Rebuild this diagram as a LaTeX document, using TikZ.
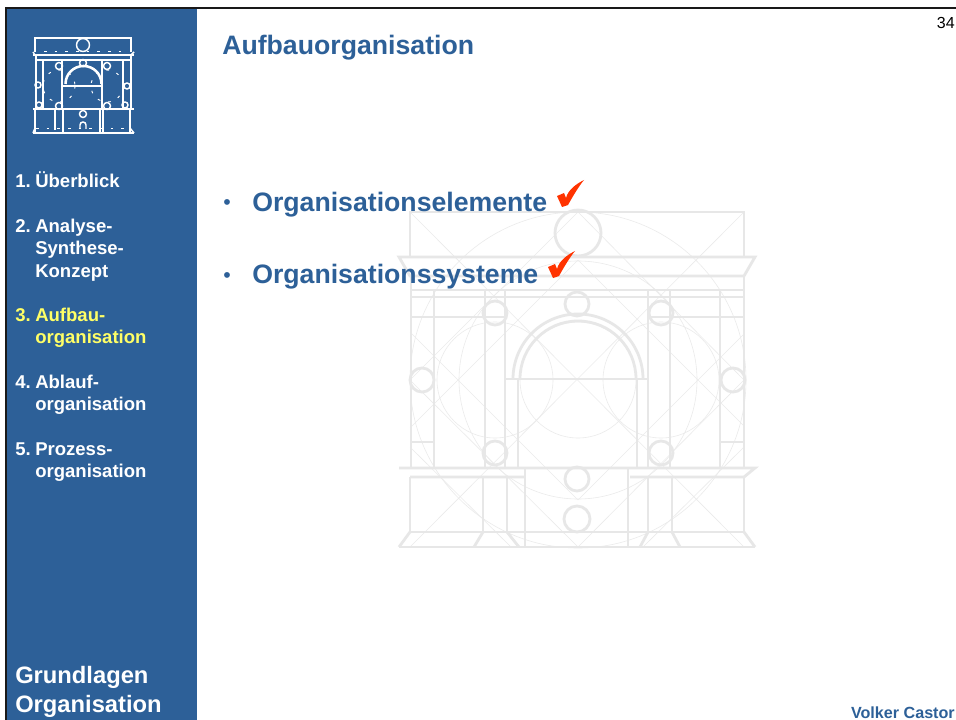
\documentclass[tikz,border=0pt]{standalone}
\usepackage{fontspec}
\setmainfont{Liberation Sans}
\definecolor{sidebar}{HTML}{2D6098}
\definecolor{navyel}{HTML}{FFFF66}
\definecolor{wm}{HTML}{E7E7E7}
\definecolor{wmthin}{HTML}{EBEBEB}
\definecolor{checkred}{HTML}{FF3300}
\newcommand{\navnum}[1]{\makebox[15pt][l]{#1}}
\tikzset{
  px/.style={x=0.75pt,y=-0.75pt},
  navtext/.style={anchor=base west,inner sep=0,text=white,font=\fontsize{13.9}{16}\bfseries\selectfont,align=left},
  bodytext/.style={anchor=base west,inner sep=0,text=sidebar,font=\fontsize{20}{22}\bfseries\selectfont},
  bullettext/.style={anchor=base,inner sep=0,text=sidebar,font=\fontsize{16}{18}\selectfont},
  wmthick/.style={draw=wm,line width=2.1pt},
  wmfine/.style={draw=wmthin,line width=0.45pt},
  logoline/.style={draw=white,line width=1.1pt},
  logofat/.style={draw=white,line width=1.9pt},
  logodots/.style={draw=white,line width=0.7pt,dash pattern=on 2pt off 6pt},
}
\begin{document}
\begin{tikzpicture}[px]
\useasboundingbox (0,0) rectangle (956,720);
\fill[white] (0,0) rectangle (956,720);
\fill[sidebar] (7,9) rectangle (197,720);
\fill[black!90] (5,7) rectangle (956,9);
\fill[black!90] (5,7) rectangle (7,720);
% watermark: fine construction lines
\begin{scope}[wmfine]
  \draw (578,380) circle (168) (578,380) circle (119) (578,380) circle (58) (495,380) circle (58) (661,380) circle (58);
  \draw (410,212)--(744,547) (744,212)--(410,547);
  \draw (578,212)--(744,380)--(578,547)--(410,380)--cycle;
  \draw (578,260)--(744,426) (578,260)--(410,428) (578,500)--(744,334) (578,500)--(410,332);
  \draw (410,447)--(511,547) (744,447)--(643,547);
\end{scope}
% watermark: heavy lines
\begin{scope}[wmthick]
  \draw (410,257)--(410,212)--(744,212)--(744,257);
  \draw (578,233) circle (23);
  \draw (399,257)--(755,257)--(744,276)--(410,276)--cycle;
  \draw (411,290)--(744,290) (411,297)--(744,297) (411,317)--(505,317) (648,317)--(744,317);
  \draw (411,276)--(411,468) (434,290)--(434,468) (720,290)--(720,468) (744,276)--(744,468);
  \draw (485,290)--(485,468) (505,290)--(505,468) (648,290)--(648,468) (670,290)--(670,468);
  \draw (518,379)--(518,468) (637,379)--(637,468);
  \draw (411,442)--(434,442) (720,442)--(744,442);
  \draw (577,304) circle (12) (495,313) circle (12) (661,313) circle (12);
  \draw (422,380) circle (12) (733,380) circle (12) (495,453) circle (12) (661,453) circle (12);
  \draw (513,379) arc (180:360:65) (520,379) arc (180:360:58);
  \draw (505,379)--(648,379);
  \draw (399,468)--(755,468)--(744,477)--(630,477) (525,477)--(410,477)--cycle;
  \draw (525,468)--(525,547) (628,468)--(628,547);
  \draw (410,477)--(410,532) (744,477)--(744,532) (483,477)--(483,532) (507,477)--(507,532) (648,477)--(648,532) (672,477)--(672,532);
  \draw (577,479) circle (12) (577,519) circle (13);
  \draw (410,532)--(744,532) (399,547)--(755,547);
  \draw (410,532)--(399,547) (744,532)--(755,547) (483,532)--(474,547) (507,532)--(519,547) (648,532)--(640,547) (672,532)--(680,547);
\end{scope}
% logo
\begin{scope}[logoline]
  \draw (35,52)--(35,38)--(131,38)--(131,52);
  \draw (83,45) circle (6.5);
  \draw (33,55)--(134,55) (35,60)--(131,60);
  \draw (33,52)--(35,55) (134,52)--(131,55);
  \draw (36,55)--(36,109) (43,60)--(43,109) (123,60)--(123,109) (131,55)--(131,109);
  \draw (83,63) circle (3.5) (59,66) circle (3.5) (107,66) circle (3.5);
  \draw (38,85) circle (3) (127,86) circle (3) (39,105) circle (3) (125,105) circle (3) (59,106) circle (3.5) (107,106) circle (3.5);
  \draw (33,109)--(134,109) (33,133)--(134,133);
  \draw (35,109)--(35,133) (55,109)--(55,130) (63,109)--(63,133) (100,109)--(100,133) (103,109)--(103,133) (130,109)--(130,133);
  \draw (33,133)--(35,128) (134,133)--(130,128);
  \draw (83,114) circle (3.5);
  \draw (80,129)--(80,125) arc (180:360:3)--(86,129);
  \draw (102,60)--(102,109);
\end{scope}
\begin{scope}[logofat]
  \draw (62,60)--(62,109);
  \draw (65.5,84) arc (180:360:18);
  \draw (63,86)--(102,86);
\end{scope}
\begin{scope}[logodots]
  \draw (59,86) circle (16) (107,86) circle (16);
  \draw (36,128)--(130,128);
  \draw (44,51)--(122,51);
\end{scope}
% nav
\node[navtext] (n1) at (15,188) {\navnum{1.}Überblick};
\node[navtext] (n2a) at (15,233) {\navnum{2.}Analyse-};
\node[navtext] (n2b) at (35,255) {Synthese-};
\node[navtext] (n2c) at (35,277) {Konzept};
\node[navtext,text=navyel] (n3a) at (15,321) {\navnum{3.}Aufbau-};
\node[navtext,text=navyel] (n3b) at (35,343) {organisation};
\node[navtext] (n4a) at (15,388) {\navnum{4.}Ablauf-};
\node[navtext] (n4b) at (35,410) {organisation};
\node[navtext] (n5a) at (15,455) {\navnum{5.}Prozess-};
\node[navtext] (n5b) at (35,477) {organisation};
\node[navtext,font=\fontsize{17.8}{20}\bfseries\selectfont] (g1) at (15,683) {Grundlagen};
\node[navtext,font=\fontsize{17.8}{20}\bfseries\selectfont] (g2) at (15,712) {Organisation};
% main
\node[bodytext] (title) at (222,55) {Aufbauorganisation};
\node[bullettext] (b1) at (227,210) {•};
\node[bodytext] (e1) at (252,212) {Organisationselemente};
\node[bullettext] (b2) at (227,282) {•};
\node[bodytext] (e2) at (252,283) {Organisationssysteme};
\foreach \cx/\cy in {557/196,548/267}{
  \fill[checkred] (\cx,\cy) -- ++(7,-3) -- ++(2,5) .. controls +(2,-8) and +(-8,4) .. ++(18,-18)
     .. controls +(-5,6) and +(5,-9) .. ++(-16,25) -- ++(-6,2) -- cycle;
}
\node[anchor=base east,inner sep=0,font=\fontsize{12}{14}\selectfont] (page) at (955,29) {34};
\node[anchor=base east,inner sep=0,text=sidebar,font=\fontsize{12.1}{14}\bfseries\selectfont] (author) at (955,718) {Volker Castor};
\end{tikzpicture}
\end{document}
